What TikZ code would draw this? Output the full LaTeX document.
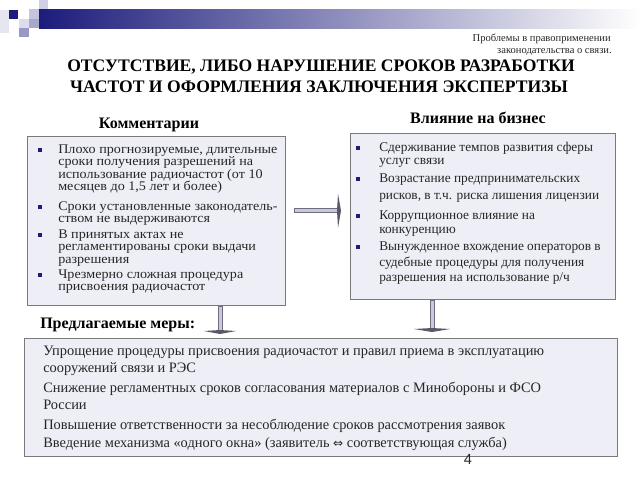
\documentclass[tikz,border=0pt]{standalone}
\usepackage{fontspec}
\setmainfont{Liberation Serif}
\newfontfamily\lfont[FakeStretch=1.07]{Liberation Serif}
\newfontfamily\pnfont{Liberation Sans}
\newfontfamily\symfont{DejaVu Sans}
\usetikzlibrary{calc}
\definecolor{navy}{HTML}{1C1C7C}
\definecolor{midnavy}{HTML}{6464B0}
\definecolor{boxfill}{HTML}{EEEEF6}
\definecolor{boxline}{HTML}{7A7A7A}
\definecolor{txt}{HTML}{262626}
\definecolor{stemfill}{HTML}{C8C8DC}
\definecolor{stemline}{HTML}{6E6E80}
\definecolor{sqa}{HTML}{D0D0E4}
\definecolor{sqb}{HTML}{C4C4DC}
\definecolor{sqc}{HTML}{A8A8CC}
\definecolor{sqd}{HTML}{DCDCEC}
\definecolor{sqe}{HTML}{9898C4}
\definecolor{sqf}{HTML}{E6E6F0}
\tikzset{
  panel/.style={draw=boxline, line width=1.1pt, fill=boxfill},
  lnl/.style={anchor=base west, inner sep=0pt, text=txt, font=\lfont\fontsize{9.9pt}{10pt}\selectfont},
  ln/.style={anchor=base west, inner sep=0pt, text=txt, font=\fontsize{10pt}{10pt}\selectfont},
  lnb/.style={anchor=base west, inner sep=0pt, text=txt, font=\fontsize{10.8pt}{10pt}\selectfont},
  bul/.style={fill=navy, minimum size=3pt, inner sep=0pt, draw=none},
  hdr/.style={inner sep=0pt, text=black, font=\bfseries\fontsize{12pt}{12pt}\selectfont},
  ttl/.style={anchor=base, inner sep=0pt, text=black, font=\bfseries\fontsize{13.2pt}{13pt}\selectfont},
  note/.style={anchor=base east, inner sep=0pt, text=txt, font=\fontsize{7.9pt}{8pt}\selectfont},
  stem/.style={draw=stemline, line width=0.6pt, fill=stemfill},
  head/.style={fill=stemline!80!black, draw=none}
}
\begin{document}
\begin{tikzpicture}[x=0.75pt,y=-0.75pt]
\useasboundingbox (0,0) rectangle (640,480);
\fill[white] (0,0) rectangle (640,480);
% banner
\shade[left color=navy, middle color=midnavy, right color=white] (39,9) rectangle (640,28);
\fill[sqa] (39,0) rectangle (48,9);
\fill[sqb] (29,9) rectangle (39,19);
\fill[sqc] (29,19) rectangle (39,28);
\fill[sqd] (19,19) rectangle (29,28);
\fill[sqe] (19,28) rectangle (29,37);
\fill[sqf] (0,10) rectangle (9,33);
\fill[navy] (9,10) rectangle (18,19);
% header note
\node[note] (note1) at (611,41) {Проблемы в правоприменении};
\node[note] (note2) at (612,53) {законодательства о связи.};
% title
\node[ttl] (t1) at (321,71) {ОТСУТСТВИЕ, ЛИБО НАРУШЕНИЕ СРОКОВ РАЗРАБОТКИ};
\node[ttl] (t2) at (319,92) {ЧАСТОТ И ОФОРМЛЕНИЯ ЗАКЛЮЧЕНИЯ ЭКСПЕРТИЗЫ};
% section headings
\node[hdr, anchor=base] (hcom) at (149,128) {Комментарии};
\node[hdr, anchor=base] (hinf) at (478,123) {Влияние на бизнес};
% panels
\node[panel, minimum width=258*0.75pt, minimum height=169*0.75pt, anchor=north west, inner sep=0pt] (lbox) at (27,136) {};
\node[panel, minimum width=265*0.75pt, minimum height=166*0.75pt, anchor=north west, inner sep=0pt] (rbox) at (350,133) {};
\node[panel, minimum width=593*0.75pt, minimum height=118*0.75pt, anchor=north west, inner sep=0pt] (bbox) at (24,338) {};
% left list
\node[bul] (lb1) at (40,150) {};
\node[lnl] (l1a) at (58,153) {Плохо прогнозируемые, длительные};
\node[lnl] (l1b) at (58,165.5) {сроки получения разрешений на};
\node[lnl] (l1c) at (58,178) {использование радиочастот (от 10};
\node[lnl] (l1d) at (58,190.5) {месяцев до 1,5 лет и более)};
\node[bul] (lb2) at (40,207) {};
\node[lnl] (l2a) at (58,210) {Сроки установленные законодатель-};
\node[lnl] (l2b) at (58,222.5) {ством не выдерживаются};
\node[bul] (lb3) at (40,235) {};
\node[lnl] (l3a) at (58,238) {В принятых актах не};
\node[lnl] (l3b) at (58,250.5) {регламентированы сроки выдачи};
\node[lnl] (l3c) at (58,263) {разрешения};
\node[bul] (lb4) at (40,275) {};
\node[lnl] (l4a) at (58,278) {Чрезмерно сложная процедура};
\node[lnl] (l4b) at (58,290.5) {присвоения радиочастот};
% right list
\node[bul] (rb1) at (358,148) {};
\node[ln] (r1a) at (379,151) {Сдерживание темпов развития сферы};
\node[ln] (r1b) at (379,164) {услуг связи};
\node[bul] (rb2) at (358,179) {};
\node[ln] (r2a) at (379,182) {Возрастание предпринимательских};
\node[ln] (r2b) at (379,199) {рисков, в т.ч. риска лишения лицензии};
\node[bul] (rb3) at (358,216) {};
\node[ln] (r3a) at (379,219) {Коррупционное влияние на};
\node[ln] (r3b) at (379,233) {конкуренцию};
\node[bul] (rb4) at (358,247) {};
\node[ln] (r4a) at (379,250) {Вынужденное вхождение операторов в};
\node[ln] (r4b) at (379,266) {судебные процедуры для получения};
\node[ln] (r4c) at (379,281) {разрешения на использование р/ч};
% measures heading
\node[hdr, anchor=base west] (hmeas) at (40,328) {Предлагаемые меры:};
% bottom list
\node[lnb] (b1a) at (43,355) {Упрощение процедуры присвоения радиочастот и правил приема в эксплуатацию};
\node[lnb] (b1b) at (43,372) {сооружений связи и РЭС};
\node[lnb] (b2a) at (43,392) {Снижение регламентных сроков согласования материалов с Минобороны и ФСО};
\node[lnb] (b2b) at (43,409) {России};
\node[lnb] (b3) at (43,429) {Повышение ответственности за несоблюдение сроков рассмотрения заявок};
\node[lnb] (b4) at (43,447) {Введение механизма «одного окна» (заявитель {\symfont\fontsize{9pt}{9pt}\selectfont ⇔} соответствующая служба)};
% page number
\node[anchor=base, inner sep=0pt, text=txt, font=\pnfont\fontsize{11pt}{11pt}\selectfont] (pg) at (468,464) {4};
% connectors
\coordinate (h0) at ($(lbox.east)+(8,-11)$);
\coordinate (h1) at ($(rbox.west)+(-12,-6)$);
\draw[stem] (h0)+(0,-2) rectangle ($(h1)+(0,2)$);
\fill[head] ($(h1)+(0,-17)$) -- ($(h1)+(3,0)$) -- ($(h1)+(0,17)$) -- ($(h1)+(-1,0)$) -- cycle;
\coordinate (v0) at ($(lbox.south west)+(193,0)$);
\coordinate (v1) at ($(bbox.north west)+(196,-7)$);
\draw[stem] (v0)+(-2,0) rectangle ($(v1)+(2,0)$);
\fill[head] ($(v1)+(-16,0)$) -- ($(v1)+(0,3)$) -- ($(v1)+(16,0)$) -- ($(v1)+(0,-1)$) -- cycle;
\coordinate (w0) at ($(rbox.south west)+(82,0)$);
\coordinate (w1) at ($(bbox.north west)+(408,-9)$);
\draw[stem] (w0)+(-2,0) rectangle ($(w1)+(2,0)$);
\fill[head] ($(w1)+(-18,0)$) -- ($(w1)+(0,3)$) -- ($(w1)+(18,0)$) -- ($(w1)+(0,-1)$) -- cycle;
\end{tikzpicture}
\end{document}
